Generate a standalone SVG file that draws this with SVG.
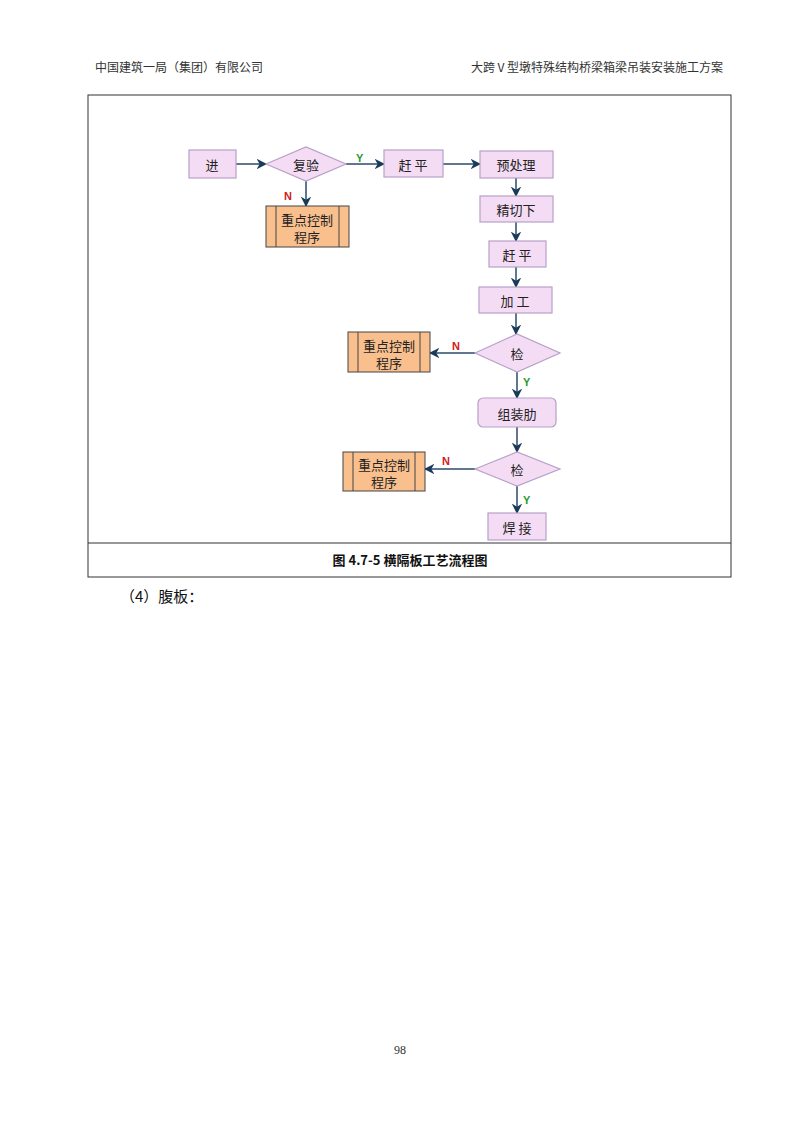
<svg xmlns="http://www.w3.org/2000/svg" width="800" height="1132" viewBox="0 0 800 1132">
<style>
.t{font-family:"Noto Sans CJK SC","Noto Sans",sans-serif;font-size:13px;fill:#222;text-anchor:middle;dominant-baseline:central}
.h{font-family:"Noto Sans CJK SC",serif;font-size:12px;fill:#333}
.p{fill:#f5dcf5;stroke:#b8a0c8;stroke-width:1.2}
.o{fill:#f9c08e;stroke:#444;stroke-width:1}
.c{stroke:#2a4a6a;stroke-width:1.5;fill:none;marker-end:url(#a)}
.y{font-family:"Liberation Sans",sans-serif;font-size:11px;fill:#2a9a2a;font-weight:bold}
.n{font-family:"Liberation Sans",sans-serif;font-size:11px;fill:#d02020;font-weight:bold}
</style>
<defs><marker id="a" viewBox="0 0 10 10" refX="9" refY="5" markerWidth="7" markerHeight="7" orient="auto"><path d="M0,0L10,5L0,10L3,5z" fill="#1a3a5a"/></marker></defs>
<rect width="800" height="1132" fill="#fff"/>
<text class="h" x="95" y="72">中国建筑一局（集团）有限公司</text>
<text class="h" x="723" y="72" text-anchor="end">大跨Ⅴ型墩特殊结构桥梁箱梁吊装安装施工方案</text>
<rect x="88" y="95" width="643" height="482" fill="none" stroke="#333" stroke-width="1"/>
<line x1="88" y1="543" x2="731" y2="543" stroke="#333" stroke-width="1"/>
<g id="connectors">
<path class="c" d="M236,164H266"/>
<path class="c" d="M346,164H384"/>
<path class="c" d="M306,181V206"/>
<path class="c" d="M443,164H480"/>
<path class="c" d="M516,178V196"/>
<path class="c" d="M516,222V241"/>
<path class="c" d="M516,267V287"/>
<path class="c" d="M516,313V334"/>
<path class="c" d="M475,353H430"/>
<path class="c" d="M517,372V398"/>
<path class="c" d="M517,427V452"/>
<path class="c" d="M475,469H425"/>
<path class="c" d="M517,486V513"/>
<text class="y" x="356" y="162">Y</text>
<text class="n" x="284" y="200">N</text>
<text class="n" x="452" y="350">N</text>
<text class="y" x="523" y="386">Y</text>
<text class="n" x="442" y="465">N</text>
<text class="y" x="523" y="504">Y</text>
</g>
<g id="n1"><rect class="p" x="189" y="150" width="47" height="28"/><text class="t" x="212" y="164">进</text></g>
<g id="n2"><polygon class="p" points="266,164 306,147 346,164 306,181"/><text class="t" x="306" y="164" font-size="12">复验</text></g>
<g id="n3"><rect class="p" x="384" y="150" width="59" height="27"/><text class="t" x="413" y="164">赶 平</text></g>
<g id="n4"><rect class="p" x="480" y="151" width="73" height="27"/><text class="t" x="516" y="164">预处理</text></g>
<g id="n5"><rect class="o" x="266" y="206" width="83" height="41"/><line x1="276" y1="206" x2="276" y2="247" stroke="#444"/><line x1="339" y1="206" x2="339" y2="247" stroke="#444"/><text class="t" x="307" y="219">重点控制</text><text class="t" x="307" y="236">程序</text></g>
<g id="n6"><rect class="p" x="480" y="196" width="73" height="26"/><text class="t" x="516" y="209">精切下</text></g>
<g id="n7"><rect class="p" x="489" y="241" width="57" height="26"/><text class="t" x="517" y="254">赶 平</text></g>
<g id="n8"><rect class="p" x="479" y="287" width="73" height="26"/><text class="t" x="515" y="300">加 工</text></g>
<g id="n9"><polygon class="p" points="475,353 517,334 560,353 517,372"/><text class="t" x="517" y="353" font-size="12">检</text></g>
<g id="n10"><rect class="o" x="348" y="332" width="82" height="40"/><line x1="358" y1="332" x2="358" y2="372" stroke="#444"/><line x1="420" y1="332" x2="420" y2="372" stroke="#444"/><text class="t" x="389" y="345">重点控制</text><text class="t" x="389" y="362">程序</text></g>
<g id="n11"><rect class="p" x="478" y="398" width="78" height="29" rx="5"/><text class="t" x="517" y="413">组装肋</text></g>
<g id="n12"><polygon class="p" points="475,469 517,452 560,469 517,486"/><text class="t" x="517" y="469" font-size="12">检</text></g>
<g id="n13"><rect class="o" x="343" y="452" width="82" height="39"/><line x1="353" y1="452" x2="353" y2="491" stroke="#444"/><line x1="415" y1="452" x2="415" y2="491" stroke="#444"/><text class="t" x="384" y="464">重点控制</text><text class="t" x="384" y="481">程序</text></g>
<g id="n14"><rect class="p" x="488" y="513" width="58" height="27"/><text class="t" x="517" y="527">焊 接</text></g>
<text x="410" y="565" font-family="Noto Sans CJK SC,serif" font-size="13" font-weight="bold" text-anchor="middle" fill="#111">图 4.7-5 横隔板工艺流程图</text>
<text x="120" y="602" font-family="Noto Sans CJK SC,serif" font-size="15" fill="#111">（4）腹板：</text>
<text x="400" y="1054" font-family="Liberation Serif,serif" font-size="12" text-anchor="middle" fill="#333">98</text>
</svg>
